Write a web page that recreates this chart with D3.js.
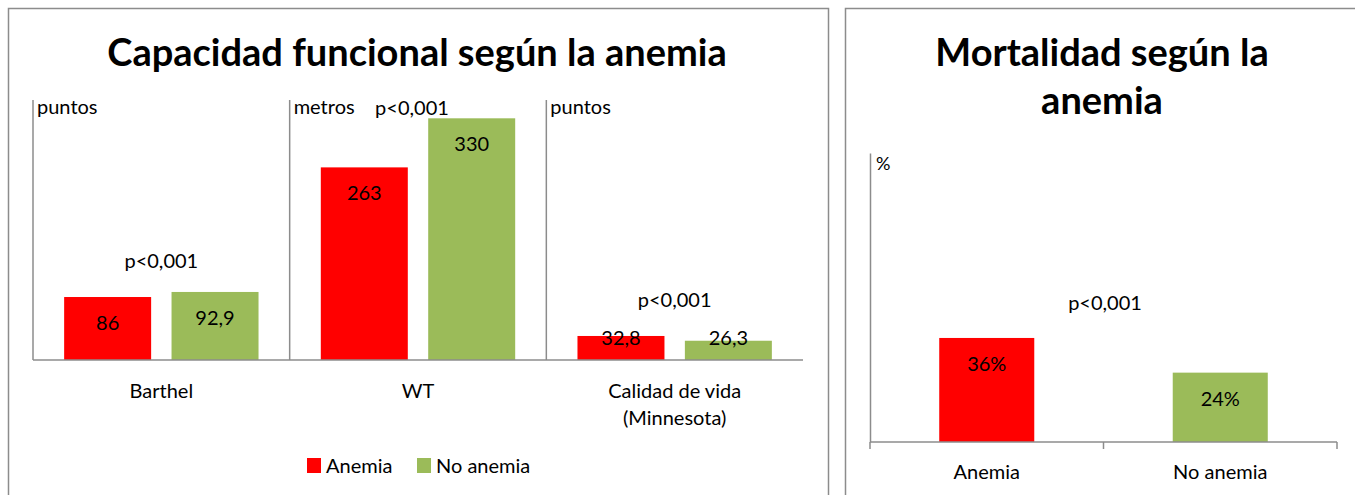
<!DOCTYPE html>
<html>
<head>
<meta charset="utf-8">
<script src="https://cdnjs.cloudflare.com/ajax/libs/d3/7.8.5/d3.min.js"></script>
<style>
    body { margin: 0; background: #fff; }
    svg { display: block; font-family: Lato, 'Open Sans', sans-serif; }
    text { fill: #000; }
</style>
</head>
<body>
<svg id="chart" width="1355" height="495"></svg>
<script>
// left panel: capacidad funcional
const categories = ['Barthel', 'WT', 'Calidad de vida|(Minnesota)'];
const series = ['Anemia', 'No anemia'];
const anemiaValues = [86, 263, 32.8];
const noAnemiaValues = [92.9, 330, 26.3];
const valueLabels = [['86', '92,9'], ['263', '330'], ['32,8', '26,3']];
const unitLabels = ['puntos', 'metros', 'puntos'];
const pLabels = ['p<0,001', 'p<0,001', 'p<0,001'];
const pLevels = [135, 344, 82]; // where the p label sits, in axis units

// right panel: mortalidad
const mortCategories = ['Anemia', 'No anemia'];
const mortValues = [36, 24];
const mortLabels = ['36%', '24%'];
const mortP = 'p<0,001';
const mortPLevel = 48;

const colors = { 'Anemia': '#ff0000', 'No anemia': '#9bbb59' };
const gray = '#8c8c8c';

const svg = d3.select('#chart');

// panel frames
svg.append('rect')
    .attr('x', 8.5).attr('y', 8.5)
    .attr('width', 820).attr('height', 520)
    .attr('fill', 'none').attr('stroke', gray).attr('stroke-width', 1.5);
svg.append('rect')
    .attr('x', 845.5).attr('y', 8.5)
    .attr('width', 600).attr('height', 520)
    .attr('fill', 'none').attr('stroke', gray).attr('stroke-width', 1.5);

// ---------- left chart ----------
svg.append('text')
    .attr('x', 417).attr('y', 66)
    .attr('text-anchor', 'middle')
    .style('font-size', '38px').style('font-weight', 700)
    .text('Capacidad funcional según la anemia');

const base = 360;
const x0 = d3.scaleBand().domain(categories).range([33, 803]);
const x1 = d3.scaleBand().domain(series)
    .range([0, x0.bandwidth()])
    .paddingInner(0.19).paddingOuter(0.29);
const y = d3.scaleLinear().domain([0, 355]).range([base, 100]);

const data = categories.map((c, i) => ({
    cat: c,
    i,
    bars: [
        { key: 'Anemia', value: anemiaValues[i], label: valueLabels[i][0] },
        { key: 'No anemia', value: noAnemiaValues[i], label: valueLabels[i][1] }
    ]
}));

const groups = svg.append('g').selectAll('g')
    .data(data)
    .join('g')
    .attr('transform', (d) => `translate(${x0(d.cat)},0)`);

groups.selectAll('rect')
    .data((d) => d.bars)
    .join('rect')
    .attr('x', (d) => x1(d.key))
    .attr('y', (d) => y(d.value))
    .attr('width', x1.bandwidth())
    .attr('height', (d) => base - y(d.value))
    .attr('fill', (d) => colors[d.key]);

groups.selectAll('text.val')
    .data((d) => d.bars)
    .join('text')
    .attr('class', 'val')
    .attr('x', (d) => x1(d.key) + x1.bandwidth() / 2)
    .attr('y', (d) => Math.min(y(d.value) + 26, base - 22) + 7)
    .attr('text-anchor', 'middle')
    .style('font-size', '20px')
    .text((d) => d.label);

// one y axis line per category, no ticks
groups.append('line')
    .attr('x1', 0).attr('x2', 0)
    .attr('y1', y(355)).attr('y2', base)
    .attr('stroke', gray).attr('stroke-width', 1.5);

groups.append('text')
    .attr('x', 4).attr('y', 114)
    .style('font-size', '20px')
    .text((d) => unitLabels[d.i]);

groups.append('text')
    .attr('x', (d) => x0.bandwidth() / 2 + (d.cat === 'WT' ? -6 : 0))
    .attr('y', (d) => y(pLevels[d.i]) + 7)
    .attr('text-anchor', 'middle')
    .style('font-size', '20px')
    .text((d) => pLabels[d.i]);

groups.append('text')
    .attr('text-anchor', 'middle')
    .style('font-size', '20px')
    .selectAll('tspan')
    .data((d) => d.cat.split('|'))
    .join('tspan')
    .attr('x', x0.bandwidth() / 2)
    .attr('y', (d, i) => 398 + i * 27)
    .text((d) => d);

svg.append('line')
    .attr('x1', 33).attr('x2', 803)
    .attr('y1', base).attr('y2', base)
    .attr('stroke', gray).attr('stroke-width', 1.5);

// legend
const legend = svg.append('g').selectAll('g')
    .data(series)
    .join('g')
    .attr('transform', (d, i) => `translate(${307 + i * 110},458)`);
legend.append('rect')
    .attr('width', 14).attr('height', 15)
    .attr('fill', (d) => colors[d]);
legend.append('text')
    .attr('x', 19).attr('y', 15)
    .style('font-size', '20px')
    .text((d) => d);

// ---------- right chart ----------
const title2 = svg.append('text')
    .attr('text-anchor', 'middle')
    .style('font-size', '38px').style('font-weight', 700);
title2.selectAll('tspan')
    .data(['Mortalidad según la', 'anemia'])
    .join('tspan')
    .attr('x', 1102)
    .attr('y', (d, i) => 66 + i * 48)
    .text((d) => d);

const mBase = 442;
const mx = d3.scaleBand().domain(mortCategories)
    .range([870, 1337])
    .paddingInner(0.593).paddingOuter(0.2965);
const my = d3.scaleLinear().domain([0, 100]).range([mBase, 153]);

svg.append('g').selectAll('rect')
    .data(mortCategories)
    .join('rect')
    .attr('x', (d) => mx(d))
    .attr('y', (d, i) => my(mortValues[i]))
    .attr('width', mx.bandwidth())
    .attr('height', (d, i) => mBase - my(mortValues[i]))
    .attr('fill', (d) => colors[d]);

svg.append('g').selectAll('text')
    .data(mortCategories)
    .join('text')
    .attr('x', (d) => mx(d) + mx.bandwidth() / 2)
    .attr('y', (d, i) => my(mortValues[i]) + 26 + 7)
    .attr('text-anchor', 'middle')
    .style('font-size', '20px')
    .text((d, i) => mortLabels[i]);

// axes
svg.append('g')
    .attr('transform', `translate(870,0)`)
    .call(d3.axisLeft(my).tickValues([]).tickSizeOuter(0))
    .call((g) => g.select('.domain').attr('stroke', gray).attr('stroke-width', 1.5));

const step = mx.step();
const bottomAxis = svg.append('g');
bottomAxis.append('line')
    .attr('x1', 870).attr('x2', 1337)
    .attr('y1', mBase).attr('y2', mBase)
    .attr('stroke', gray).attr('stroke-width', 1.5);
bottomAxis.selectAll('line.tick')
    .data(d3.range(mortCategories.length + 1))
    .join('line')
    .attr('class', 'tick')
    .attr('x1', (d) => 870 + d * step).attr('x2', (d) => 870 + d * step)
    .attr('y1', mBase).attr('y2', mBase + 7)
    .attr('stroke', gray).attr('stroke-width', 1.5);
bottomAxis.selectAll('text')
    .data(mortCategories)
    .join('text')
    .attr('x', (d) => mx(d) + mx.bandwidth() / 2)
    .attr('y', 479)
    .attr('text-anchor', 'middle')
    .style('font-size', '20px')
    .text((d) => d);

svg.append('text')
    .attr('x', 876).attr('y', 170)
    .style('font-size', '18px')
    .text('%');

svg.append('text')
    .attr('x', 1105).attr('y', my(mortPLevel) + 7)
    .attr('text-anchor', 'middle')
    .style('font-size', '20px')
    .text(mortP);
</script>
</body>
</html>
